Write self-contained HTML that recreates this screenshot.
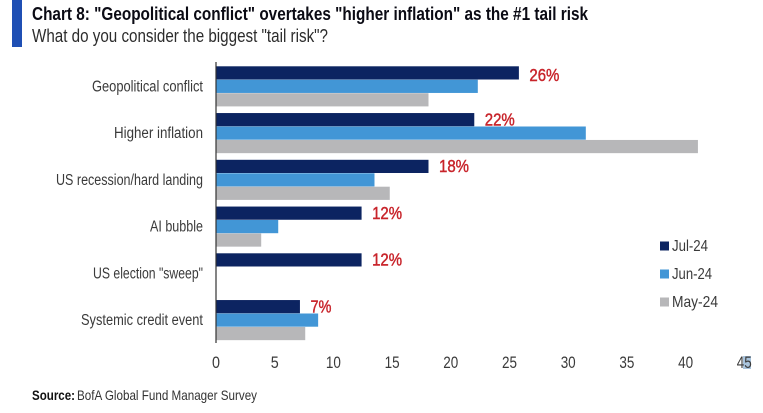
<!DOCTYPE html>
<html lang="en">
<head>
<meta charset="utf-8">
<title>Chart 8</title>
<style>
html,body{margin:0;padding:0;background:#fff;width:763px;height:413px;overflow:hidden}
svg{display:block;font-family:"Liberation Sans",sans-serif}
</style>
</head>
<body>
<svg id="chart" width="763" height="413" viewBox="0 0 763 413" xmlns="http://www.w3.org/2000/svg">
<rect x="12" y="0" width="10" height="47" fill="#1f4fb4"/>
<text x="32" y="20" font-size="18.5" font-weight="700" fill="#0b0b14" textLength="556" lengthAdjust="spacingAndGlyphs">Chart 8: "Geopolitical conflict" overtakes "higher inflation" as the #1 tail risk</text>
<text x="32" y="42" font-size="18" fill="#2c2c2c" textLength="296" lengthAdjust="spacingAndGlyphs">What do you consider the biggest "tail risk"?</text>
<text x="32" y="400" font-size="14" font-weight="700" fill="#111" textLength="43" lengthAdjust="spacingAndGlyphs">Source:</text>
<text x="77" y="400" font-size="14" fill="#333" textLength="180" lengthAdjust="spacingAndGlyphs">BofA Global Fund Manager Survey</text>
<rect x="743" y="356" width="8" height="13" fill="#a9c4dd"/>
</svg>
<script>
const categories = ['Geopolitical conflict', 'Higher inflation', 'US recession/hard landing', 'AI bubble', 'US election "sweep"', 'Systemic credit event'];
const categoryWidths = [111, 89, 147, 53, 110, 122];
const jul24 = [25.8, 22, 18.1, 12.4, 12.4, 7.15];
const jun24 = [22.3, 31.5, 13.5, 5.3, 0, 8.7];
const may24 = [18.1, 41.05, 14.8, 3.85, 0, 7.6];
const valueLabels = ['26%', '22%', '18%', '12%', '12%', '7%'];
const xTicks = [0, 5, 10, 15, 20, 25, 30, 35, 40, 45];
const seriesNames = ['Jul-24', 'Jun-24', 'May-24'];
const seriesWidths = [36, 40, 46];

const svg = document.getElementById('chart');
const NS = 'http://www.w3.org/2000/svg';
const colors = ['#0c2461', '#4296d6', '#b7b7b9'];
const allSeries = [jul24, jun24, may24];
const x = v => 216 + v * 11.74;
const bandCenter = i => 86.3 + i * 46.75;
const make = (tag, attrs, text) => {
  const el = document.createElementNS(NS, tag);
  for (const k in attrs) el.setAttribute(k, attrs[k]);
  if (text !== undefined) el.textContent = text;
  svg.appendChild(el);
  return el;
};

allSeries.forEach((values, s) => {
  values.forEach((v, i) => {
    if (v <= 0) return;
    const bar = make('rect', {x: x(0), y: bandCenter(i) - 20 + s * 13.45, width: x(v) - x(0), height: 13.2, fill: colors[s]});
    
    
  });
});

const axisLine = make('line', {x1: x(0), x2: x(0), y1: 62, y2: 343, stroke: '#333', 'stroke-width': 1.2});



categories.forEach((c, i) => {
  const label = make('text', {x: 203, y: bandCenter(i) + 5, 'font-size': 15.5, fill: '#3a3a3a', 'text-anchor': 'end', textLength: categoryWidths[i], lengthAdjust: 'spacingAndGlyphs'}, c);
  
  
});

valueLabels.forEach((t, i) => {
  const label = make('text', {x: x(jul24[i]) + 10.5, y: bandCenter(i) - (i === 0 ? 5.5 : 7.8), 'font-size': 17.5, fill: '#c8242b', stroke: '#c8242b', 'stroke-width': 0.45, textLength: t.length === 3 ? 30 : 21, lengthAdjust: 'spacingAndGlyphs'}, t);
  
  
});

xTicks.forEach(t => {
  const label = make('text', {x: x(t) - (String(t).length === 2 ? 7.5 : 4), y: 368, 'font-size': 16.5, fill: '#3a3a3a', textLength: String(t).length === 2 ? 15 : 8, lengthAdjust: 'spacingAndGlyphs'}, t);
  
  
});

seriesNames.forEach((n, s) => {
  const y = 246 + s * 28;
  const swatch = make('rect', {x: 660, y: y - 4.5, width: 9, height: 9, fill: colors[s]});
  
  
  const label = make('text', {x: 672, y: y + 5, 'font-size': 16, fill: '#3a3a3a', textLength: seriesWidths[s], lengthAdjust: 'spacingAndGlyphs'}, n);
  
  
});
</script>
</body>
</html>
